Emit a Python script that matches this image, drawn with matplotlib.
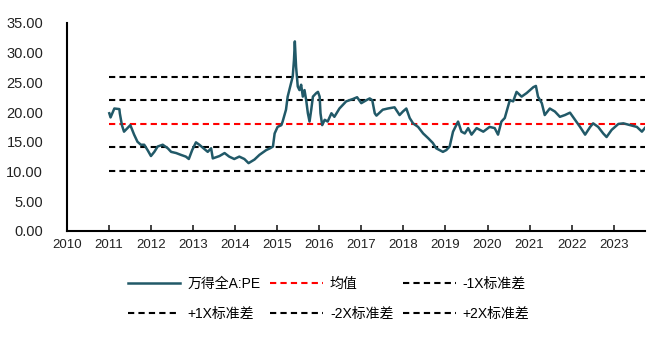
import matplotlib
matplotlib.use("Agg")
import matplotlib.pyplot as plt

plt.rcParams['font.family'] = ['Liberation Sans', 'Noto Sans CJK SC', 'DejaVu Sans']

# PE series (decimal year, value)
years = [2011.01, 2011.04, 2011.13, 2011.25, 2011.26, 2011.31, 2011.36, 2011.44, 2011.51, 2011.60,
         2011.68, 2011.76, 2011.84, 2011.92, 2012.00, 2012.08, 2012.16, 2012.28, 2012.40, 2012.48,
         2012.60, 2012.71, 2012.83, 2012.90, 2012.98, 2013.07, 2013.15, 2013.25, 2013.35, 2013.43,
         2013.47, 2013.63, 2013.75, 2013.86, 2013.98, 2014.10, 2014.22, 2014.32, 2014.46, 2014.58,
         2014.74, 2014.83, 2014.90, 2014.94, 2015.01, 2015.10, 2015.13, 2015.21, 2015.25, 2015.33,
         2015.37, 2015.40, 2015.42, 2015.45, 2015.49, 2015.53, 2015.57, 2015.61, 2015.65, 2015.69,
         2015.73, 2015.77, 2015.81, 2015.85, 2015.93, 2015.97, 2016.01, 2016.03, 2016.07, 2016.13,
         2016.20, 2016.29, 2016.36, 2016.48, 2016.64, 2016.80, 2016.90, 2017.00, 2017.12, 2017.20,
         2017.26, 2017.32, 2017.36, 2017.51, 2017.63, 2017.79, 2017.91, 2017.99, 2018.07, 2018.15,
         2018.23, 2018.35, 2018.47, 2018.59, 2018.70, 2018.78, 2018.94, 2019.02, 2019.10, 2019.18,
         2019.30, 2019.38, 2019.46, 2019.54, 2019.62, 2019.74, 2019.90, 2020.05, 2020.17, 2020.25,
         2020.33, 2020.41, 2020.53, 2020.61, 2020.69, 2020.81, 2020.93, 2021.01, 2021.09, 2021.15,
         2021.20, 2021.29, 2021.36, 2021.48, 2021.60, 2021.72, 2021.84, 2021.96, 2022.08, 2022.20,
         2022.32, 2022.44, 2022.51, 2022.63, 2022.75, 2022.83, 2022.95, 2023.11, 2023.23, 2023.39,
         2023.55, 2023.67, 2023.75]
pe = [19.8, 19.1, 20.6, 20.5, 19.8, 17.8, 16.7, 17.3, 17.8, 16.2,
      15.0, 14.5, 14.5, 13.6, 12.6, 13.3, 14.2, 14.5, 13.9, 13.3,
      13.1, 12.8, 12.5, 12.1, 13.6, 14.9, 14.5, 13.9, 13.3, 13.9,
      12.2, 12.6, 13.1, 12.5, 12.1, 12.5, 12.1, 11.4, 12.0, 12.8,
      13.6, 13.9, 14.2, 16.4, 17.5, 17.8, 18.4, 20.4, 22.6, 24.9,
      26.0, 28.8, 31.9, 27.6, 24.3, 23.7, 24.6, 22.6, 23.7, 22.0,
      19.8, 18.4, 20.4, 22.6, 23.2, 23.4, 22.6, 19.8, 17.8, 18.7,
      18.4, 19.8, 19.2, 20.6, 21.8, 22.2, 22.5, 21.5, 22.0, 22.3,
      22.0, 19.8, 19.4, 20.4, 20.6, 20.8, 19.5, 20.1, 20.6, 19.0,
      18.1, 17.5, 16.4, 15.6, 14.8, 13.9, 13.3, 13.6, 14.2, 16.7,
      18.4, 16.7, 16.4, 17.3, 16.2, 17.3, 16.7, 17.5, 17.3, 16.2,
      18.4, 19.0, 22.0, 21.8, 23.4, 22.6, 23.2, 23.7, 24.2, 24.4,
      22.6, 21.5, 19.5, 20.6, 20.1, 19.2, 19.5, 19.9, 18.7, 17.5,
      16.2, 17.5, 18.1, 17.5, 16.4, 15.8, 17.0, 18.0, 18.1, 17.8,
      17.5, 16.7, 17.4]

mean_val = 18.05
std_val = 3.95
band_start, band_end = 2011.0, 2023.75

labels = ['万得全A:PE', '均值', '-1X标准差', '+1X标准差', '-2X标准差', '+2X标准差']
x_ticks = list(range(2010, 2024))
y_ticks = [0, 5, 10, 15, 20, 25, 30, 35]

fig = plt.figure(figsize=(6.68, 3.38), dpi=100)
ax = fig.add_axes([0.100, 0.317, 0.866, 0.615])

dash = (0, (3, 2))
line_color = '#215968'
h_pe, = ax.plot(years, pe, color=line_color, lw=1.8, label=labels[0], zorder=5)
bx = [band_start, band_end]
h_mean, = ax.plot(bx, [mean_val] * 2, color='#FF0000', lw=1.5, ls=dash, label=labels[1])
h_m1, = ax.plot(bx, [mean_val - std_val] * 2, color='black', lw=1.5, ls=dash, label=labels[2])
h_p1, = ax.plot(bx, [mean_val + std_val] * 2, color='black', lw=1.5, ls=dash, label=labels[3])
h_m2, = ax.plot(bx, [mean_val - 2 * std_val] * 2, color='black', lw=1.5, ls=dash, label=labels[4])
h_p2, = ax.plot(bx, [mean_val + 2 * std_val] * 2, color='black', lw=1.5, ls=dash, label=labels[5])

ax.set_xlim(2010, 2023.75)
ax.set_ylim(0, 35)
ax.set_xticks(x_ticks)
ax.set_xticklabels([str(t) for t in x_ticks])
ax.set_yticks(y_ticks)
ax.set_yticklabels([f'{v:.2f}' for v in y_ticks])

for s in ['top', 'right']:
    ax.spines[s].set_visible(False)
for s in ['left', 'bottom']:
    ax.spines[s].set_linewidth(1.5)
    ax.spines[s].set_color('black')

ax.tick_params(axis='x', direction='in', length=4, width=1.2, pad=6, labelsize=9.5, colors='#222222')
ax.tick_params(axis='y', length=0, pad=17, labelsize=10.5, colors='#222222')

handles = [h_pe, h_p1, h_mean, h_m2, h_m1, h_p2]
fig.legend(handles, [h.get_label() for h in handles], ncol=3, frameon=False,
           loc='upper left', bbox_to_anchor=(0.191, 0.180), fontsize=10,
           handlelength=3.8, handletextpad=0.5, columnspacing=0.7, labelspacing=1.15,
           borderaxespad=0, borderpad=0)

fig.savefig('out.png', dpi=100)
